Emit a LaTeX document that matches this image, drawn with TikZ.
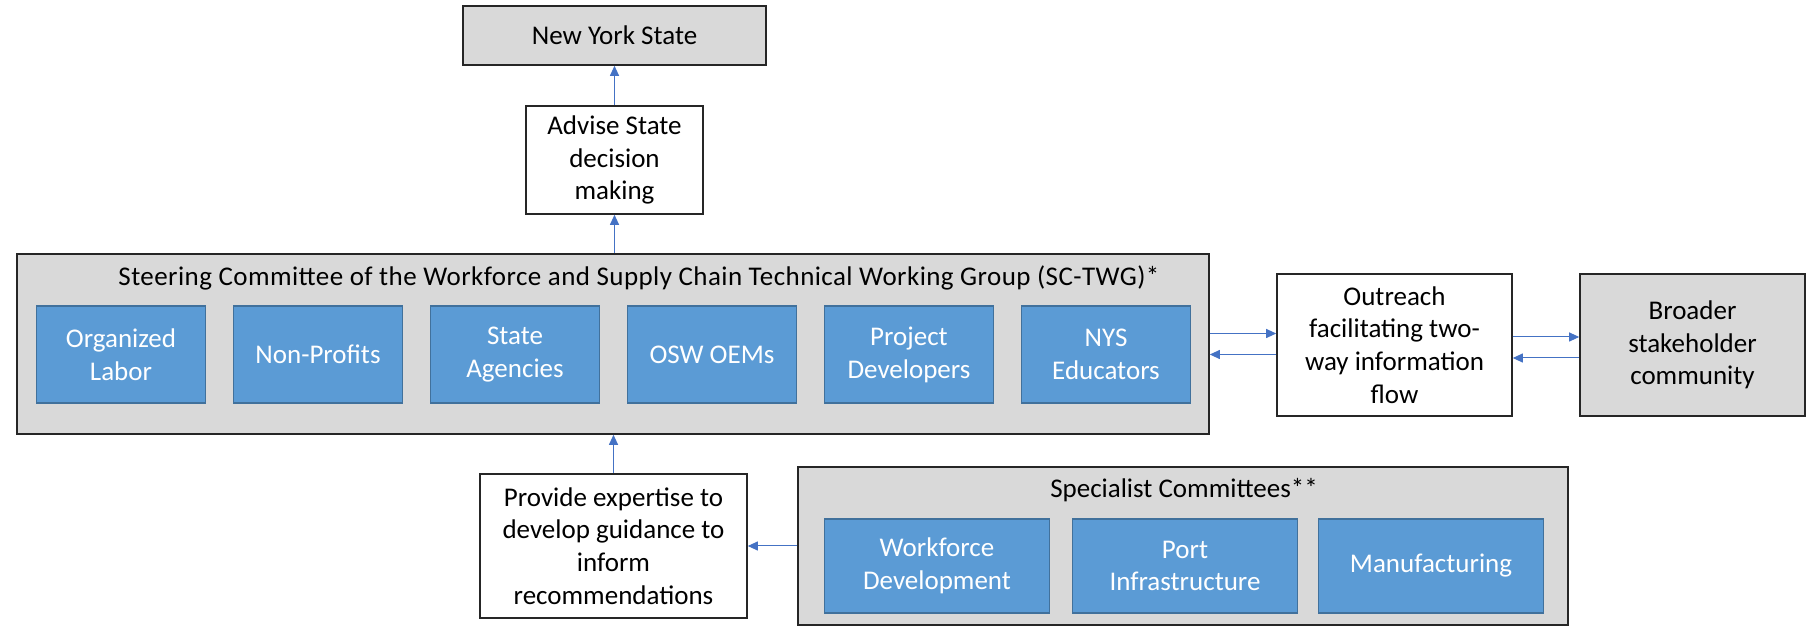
\documentclass[tikz,border=0pt]{standalone}
\usepackage{fontspec}
\setmainfont{Carlito}
\usetikzlibrary{arrows.meta}
\definecolor{boxgray}{HTML}{D9D9D9}
\definecolor{boxblue}{HTML}{5B9BD5}
\definecolor{blueedge}{HTML}{41719C}
\definecolor{arrblue}{HTML}{4472C4}
\begin{document}
\begin{tikzpicture}[x=0.5pt,y=-0.5pt,
  every node/.style={font=\fontsize{13.5pt}{16.4pt}\selectfont, inner sep=0pt, align=center},
  graybox/.style={draw=black!85, line width=0.8pt, fill=boxgray},
  whitebox/.style={draw=black!85, line width=0.8pt, fill=white},
  bluebox/.style={draw=blueedge, line width=0.6pt, fill=boxblue, text=white},
  arr/.style={draw=arrblue, line width=0.5pt, -{Triangle[width=4.5pt,length=5pt]}}
]
\useasboundingbox (0,0) rectangle (1811,630);
% top
\node[graybox, minimum width=151.5pt, minimum height=29.5pt] (nys) at (614.5,35.5) {New York State};
\node[whitebox, minimum width=88.5pt, minimum height=54pt] (advise) at (614.5,160) {Advise State\\decision\\making};
% steering committee
\node[graybox, minimum width=596pt, minimum height=90pt] (steer) at (613,344) {};
\node[font=\fontsize{13.5pt}{16.4pt}\selectfont\addfontfeature{LetterSpace=1.6}] (steertitle) at (639,278) {Steering Committee of the Workforce and Supply Chain Technical Working Group (SC-TWG)*};
\node[bluebox, minimum width=84.5pt, minimum height=48.5pt] (b1) at (121,354.5) {Organized\\Labor};
\node[bluebox, minimum width=84.5pt, minimum height=48.5pt] (b2) at (318,354.5) {Non-Profits};
\node[bluebox, minimum width=84.5pt, minimum height=48.5pt] (b3) at (515,354.5) {State\\Agencies};
\node[bluebox, minimum width=84.5pt, minimum height=48.5pt] (b4) at (712,354.5) {OSW OEMs};
\node[bluebox, minimum width=84.5pt, minimum height=48.5pt] (b5) at (909,354.5) {Project\\Developers};
\node[bluebox, minimum width=84.5pt, minimum height=48.5pt] (b6) at (1106,354.5) {NYS\\Educators};
% outreach
\node[whitebox, minimum width=117.5pt, minimum height=71pt] (out) at (1394.5,345) {Outreach\\facilitating two-\\way information\\flow};
\node[graybox, minimum width=112.5pt, minimum height=71pt] (broad) at (1692.5,345) {Broader\\stakeholder\\community};
% bottom
\node[whitebox, minimum width=133.5pt, minimum height=72pt] (prov) at (613.5,546) {Provide expertise to\\develop guidance to\\inform\\recommendations};
\node[graybox, minimum width=385pt, minimum height=79pt] (spec) at (1183,546) {};
\node (spectitle) at (1184,490) {Specialist Committees**};
\node[bluebox, minimum width=112.5pt, minimum height=47pt] (s1) at (937,566) {Workforce\\Development};
\node[bluebox, minimum width=112.5pt, minimum height=47pt] (s2) at (1185,566) {Port\\Infrastructure};
\node[bluebox, minimum width=112.5pt, minimum height=47pt] (s3) at (1431,566) {Manufacturing};
% connectors
\draw[arr] (advise.north) -- (nys.south);
\draw[arr] (steer.north -| advise.south) -- (advise.south);
\draw[arr] (prov.north) -- (prov.north |- steer.south);
\draw[arr] (spec.west) -- (prov.east);
\draw[arr] ([yshift=5.25pt]steer.east) -- ([yshift=5.25pt]steer.east -| out.west);
\draw[arr] ([yshift=-5.25pt]steer.east -| out.west) -- ([yshift=-5.25pt]steer.east);
\draw[arr] ([yshift=4pt]out.east) -- ([yshift=4pt]broad.west);
\draw[arr] ([yshift=-6.5pt]broad.west) -- ([yshift=-6.5pt]out.east);
\end{tikzpicture}
\end{document}
